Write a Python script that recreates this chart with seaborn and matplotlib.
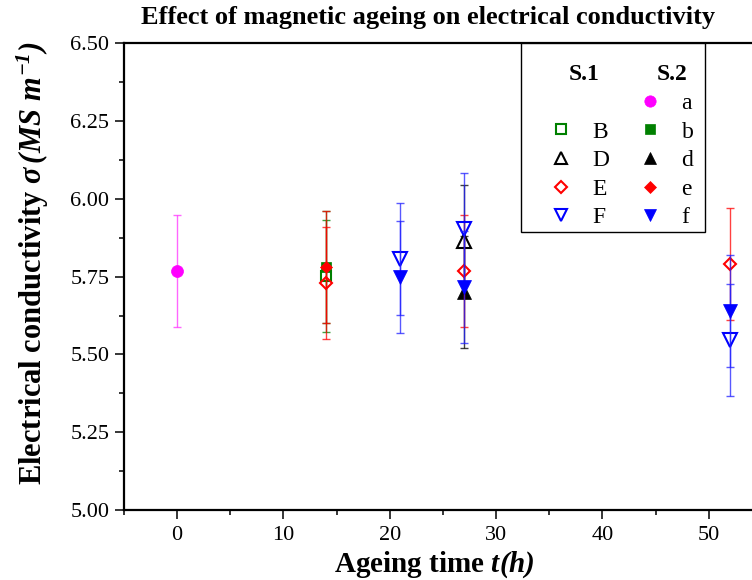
import matplotlib
matplotlib.use("Agg")
import matplotlib.pyplot as plt
from matplotlib.lines import Line2D
from matplotlib.patches import Rectangle
from matplotlib.ticker import MultipleLocator, FormatStrFormatter
import seaborn as sns

# ---------------------------------------------
# data (x in h, sigma in MS/m)
# ---------------------------------------------
a_x, a_y, a_err = [0], [5.767], [0.18]
B_x, B_y, B_err = [14], [5.751], [0.18]
b_x, b_y, b_err = [14], [5.780], [0.18]
D_x, D_y, D_err = [27], [5.866], [0.18]
d_x, d_y, d_err = [27], [5.702], [0.18]
E_x, E_y, E_err = [14, 27, 52], [5.729, 5.768, 5.791], [0.18, 0.18, 0.18]
e_x, e_y, e_err = [14], [5.782], [0.18]
F_x, F_y, F_err = [21, 27, 52], [5.806, 5.903, 5.547], [0.18, 0.18, 0.18]
f_x, f_y, f_err = [21, 27, 52], [5.748, 5.718, 5.641], [0.18, 0.18, 0.18]

x_ticks = [0, 10, 20, 30, 40, 50]
y_ticks = [5.00, 5.25, 5.50, 5.75, 6.00, 6.25, 6.50]

# ---------------------------------------------
# style
# ---------------------------------------------
sns.set_theme(style="ticks")
plt.rcParams['font.family'] = ['Liberation Serif', 'DejaVu Serif']
plt.rcParams['mathtext.fontset'] = 'custom'
plt.rcParams['mathtext.rm'] = 'Liberation Serif:italic:bold'
plt.rcParams['mathtext.it'] = 'Liberation Serif:italic:bold'
plt.rcParams['mathtext.bf'] = 'Liberation Serif:bold'
for k in ['text.color', 'axes.labelcolor', 'xtick.color', 'ytick.color', 'axes.edgecolor']:
    plt.rcParams[k] = 'black'

# axes box in pixels (right edge runs just past the picture)
AX_L, AX_W, AX_B, AX_H = 124, 637.8, 510, 466.7
fig = plt.figure(figsize=(7.52, 5.80), dpi=100)
ax = fig.add_axes([AX_L / 752, (580 - AX_B) / 580, AX_W / 752, AX_H / 580])

# (label, x, y, err, colour, bar colour, marker, size, filled)
series = [
    ("a", a_x, a_y, a_err, '#ff00ff', '#ff33ff', 'o', 8.6, True),
    ("B", B_x, B_y, B_err, '#008000', '#008000', 's', 7.0, False),
    ("b", b_x, b_y, b_err, '#008000', '#008000', 's', 7.0, True),
    ("D", D_x, D_y, D_err, 'black', 'black', '^', 9.4, False),
    ("d", d_x, d_y, d_err, 'black', 'black', '^', 9.4, True),
    ("E", E_x, E_y, E_err, '#ff0000', '#ff0000', 'D', 6.6, False),
    ("e", e_x, e_y, e_err, '#ff0000', '#ff0000', 'D', 6.6, True),
    ("F", F_x, F_y, F_err, '#0000ff', '#2020ff', 'v', 9.4, False),
    ("f", f_x, f_y, f_err, '#0000ff', '#2020ff', 'v', 9.4, True),
]

handles = {}
for lab, xs, ys, es, col, bcol, mk, ms, filled in series:
    ax.errorbar(xs, ys, yerr=es, fmt='none', ecolor=bcol, elinewidth=1.0,
                capsize=3.2, capthick=1.0, alpha=0.75)
    style = dict(linestyle='none', marker=mk,
                 markerfacecolor=col if filled else 'none', markeredgecolor=col,
                 markeredgewidth=0.5 if filled else 1.5)
    ax.plot(xs, ys, markersize=ms, **style)
    handles[lab] = Line2D([], [], markersize=ms * 0.95, **style)

# legend: first row left empty for the S.1 / S.2 headers
blank = Line2D([], [], linestyle='none', marker=None)
col1 = [(blank, " "), (blank, " "), (handles["B"], "B"), (handles["D"], "D"),
        (handles["E"], "E"), (handles["F"], "F")]
col2 = [(blank, " "), (handles["a"], "a"), (handles["b"], "b"), (handles["d"], "d"),
        (handles["e"], "e"), (handles["f"], "f")]
order = col1 + col2

leg = ax.legend([h for h, _ in order], [l for _, l in order], ncol=2,
                loc='upper left',
                bbox_to_anchor=((521 - AX_L) / AX_W, 1 - (52 - 43.3) / AX_H),
                borderaxespad=0, fontsize=17, handlelength=2.37, handletextpad=0.17,
                columnspacing=0.5, labelspacing=0.3, borderpad=0.5, frameon=False)
# legend frame
ax.add_patch(Rectangle(((521 - AX_L) / AX_W, (AX_B - 232) / AX_H),
                       (705 - 521) / AX_W, (232 - 43.3) / AX_H,
                       transform=ax.transAxes, facecolor='white', edgecolor='black',
                       linewidth=1.0, zorder=4.9))
leg.set_zorder(5)

# ---------------------------------------------
# axes
# ---------------------------------------------
ax.set_xlim(-5, 55)
ax.set_ylim(5.0, 6.5)
ax.set_xticks(x_ticks)
ax.set_yticks(y_ticks)
ax.xaxis.set_minor_locator(MultipleLocator(5))
ax.yaxis.set_minor_locator(MultipleLocator(0.125))
ax.yaxis.set_major_formatter(FormatStrFormatter('%.2f'))
ax.tick_params(which='major', direction='out', length=6.5, width=1.1, labelsize=16)
ax.tick_params(axis='x', which='major', pad=5)
ax.tick_params(axis='y', which='major', pad=4)
ax.tick_params(which='minor', direction='out', length=3.6, width=1.1)
ax.tick_params(top=False, right=False)
for sp in ax.spines.values():
    sp.set_linewidth(1.6)
    sp.set_visible(True)

ax.set_title('Effect of magnetic ageing on electrical conductivity',
             fontsize=19, fontweight='bold', pad=14, x=(428 - AX_L) / AX_W)
ax.set_xlabel(r'Ageing time $t(h)$', fontsize=21, fontweight='bold', labelpad=3,
              x=(434 - AX_L) / AX_W)
ax.set_ylabel(r'Electrical conductivity $\sigma\,(MS\ m^{-1})$', fontsize=22,
              fontweight='bold', labelpad=14, y=(AX_B - 263.5) / AX_H)

# headers placed over the two legend columns
fig.canvas.draw()
rend = fig.canvas.get_renderer()
texts = {t.get_text(): t for t in leg.get_texts()}
bb_B = texts["B"].get_window_extent(rend)
bb_a = texts["a"].get_window_extent(rend)
step = bb_a.y0 - bb_B.y0
inv = fig.transFigure.inverted()
for bb, txt in [(bb_B, "S.1"), (bb_a, "S.2")]:
    xh, yh = inv.transform((bb.x0 - 9, bb_a.y0 + step + bb.height / 2))
    fig.text(xh, yh, txt, fontsize=17, fontweight='bold', ha='center', va='center',
             zorder=6)

fig.savefig("out.png", dpi=100)
